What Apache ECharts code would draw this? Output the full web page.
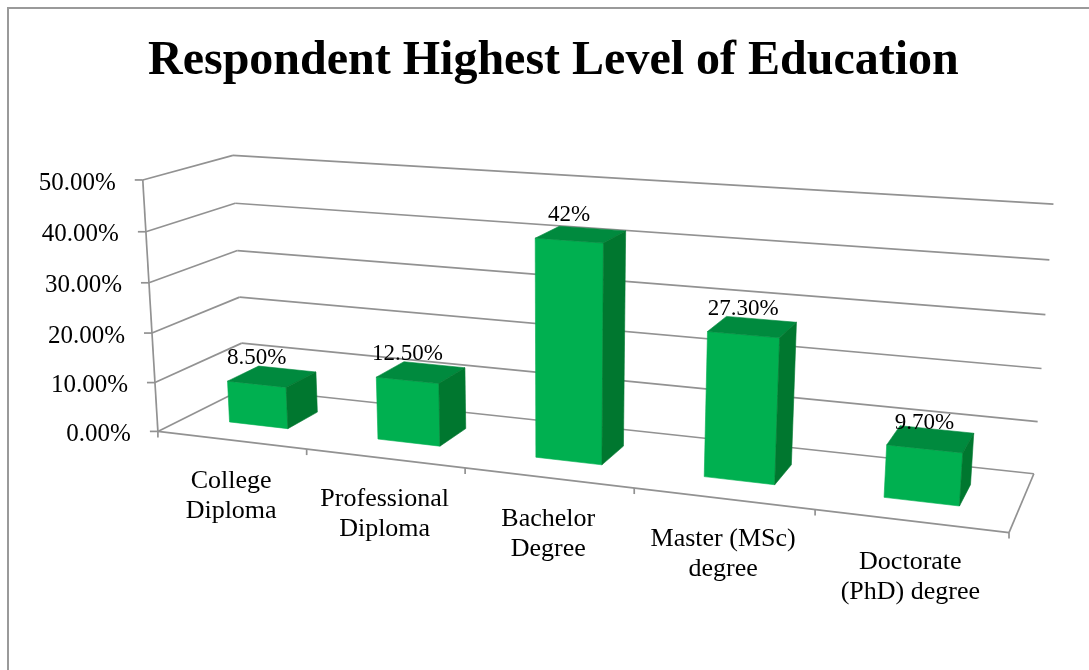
<!DOCTYPE html>
<html>
<head>
<meta charset="utf-8">
<script src="https://cdn.jsdelivr.net/npm/echarts@6/dist/echarts.min.js"></script>
<style>html,body{margin:0;padding:0;background:#fff}#chart{width:1089px;height:670px}</style>
</head>
<body>
<div id="chart"></div>
<script>
const chartTitle = 'Respondent Highest Level of Education';
const categories = ['College\nDiploma', 'Professional\nDiploma', 'Bachelor\nDegree', 'Master (MSc)\ndegree', 'Doctorate\n(PhD) degree'];
const values = [8.5, 12.5, 42, 27.3, 9.7];
const valueLabels = ['8.50%', '12.50%', '42%', '27.30%', '9.70%'];
const yTicks = [0, 10, 20, 30, 40, 50];
const yTickLabels = ['0.00%', '10.00%', '20.00%', '30.00%', '40.00%', '50.00%'];

const FONT = "'Liberation Serif', 'Times New Roman', serif";
const colors = { front: '#00B050', top: '#008A3E', side: '#00772F', grid: '#929292' };

// 3-D view: rotation angles in degrees, focal length and principal point in px
const camera = { yaw: 20.79, pitch: 15.69, roll: -0.03, focal: 1870, cx: 552.7, cy: 392.5 };
// plot box: front-bottom-left corner on screen, size of the box in px
const box = { left: 157.9, bottom: 431.4, width: 835.8, height: 253.1, depth: 170.8 };
// column footprint: half width as share of a category, front/back as share of the depth
const barShape = { halfWidth: 0.2, front: 0.318, back: 0.689 };

function basis(cam) {
  const r = Math.PI / 180;
  const cyw = Math.cos(cam.yaw * r), syw = Math.sin(cam.yaw * r);
  const cp = Math.cos(cam.pitch * r), sp = Math.sin(cam.pitch * r);
  const cr = Math.cos(cam.roll * r), sr = Math.sin(cam.roll * r);
  function rot(v) {
    const x = v[0], y = v[1], z = v[2];
    const y1 = cp * y - sp * z, z1 = sp * y + cp * z;
    return [x * cr - y1 * sr, x * sr + y1 * cr, z1];
  }
  return { ex: rot([cyw, 0, -syw]), ey: rot([0, -1, 0]), ez: rot([syw, 0, cyw]) };
}
// Perspective projector anchored at the grid's bottom-left corner
function makeProjector(cam, ox, oy) {
  const b = basis(cam);
  const T = [ox - cam.cx, oy - cam.cy, cam.focal];
  const camPt = (X, Y, Z) => [
    T[0] + X * b.ex[0] + Y * b.ey[0] + Z * b.ez[0],
    T[1] + X * b.ex[1] + Y * b.ey[1] + Z * b.ez[1],
    T[2] + X * b.ex[2] + Y * b.ey[2] + Z * b.ez[2]
  ];
  const pt = (X, Y, Z) => { const c = camPt(X, Y, Z); return [cam.cx + cam.focal * c[0] / c[2], cam.cy + cam.focal * c[1] / c[2]]; };
  return { camPt, pt, b };
}
function projectorFor(cs) { return makeProjector(camera, cs.x, cs.y + cs.height); }
function line(a, b) {
  return { type: 'line', shape: { x1: a[0], y1: a[1], x2: b[0], y2: b[1] },
    style: { stroke: colors.grid, lineWidth: 1.7 } };
}

const chart = echarts.init(document.getElementById('chart'));
chart.setOption({
  animation: false,
  title: { text: chartTitle, left: 143, top: 33,
    textStyle: { fontFamily: FONT, fontSize: 48, fontWeight: 'bold', color: '#000' } },
  graphic: [
    { type: 'rect', shape: { x: 8, y: 8, width: 1200, height: 800 }, style: { fill: 'none', stroke: '#9a9a9a', lineWidth: 2 }, silent: true }
  ],
  grid: { left: box.left, top: box.bottom - box.height, width: box.width, height: box.height },
  xAxis: { type: 'category', data: categories, show: false },
  yAxis: { type: 'value', min: 0, max: 50, interval: 10, show: false },
  series: [
    { // one gridline per value tick, across the side wall and the back wall
      type: 'custom', z: 1, silent: true,
      data: yTicks.map(v => [0, v]),
      renderItem(params, api) {
        const cs = params.coordSys, pr = projectorFor(cs);
        const Y = cs.y + cs.height - api.coord([0, api.value(1)])[1];
        const W = cs.width, D = box.depth;
        const a = pr.pt(0, Y, 0), b = pr.pt(0, Y, D), c = pr.pt(W, Y, D);
        return { type: 'group', children: [
          line(a, b), line(b, c),
          line([a[0] - 8, a[1]], a),
          { type: 'text', style: { text: yTickLabels[params.dataIndex], x: a[0] - 27, y: a[1] + 3,
            align: 'right', verticalAlign: 'middle', font: '25px ' + FONT, fill: '#000' } }
        ] };
      }
    },
    { // value axis line and floor edges
      type: 'custom', z: 1, silent: true,
      data: [[0, 0]],
      renderItem(params, api) {
        const cs = params.coordSys, pr = projectorFor(cs);
        const W = cs.width, H = cs.height, D = box.depth;
        const o = pr.pt(0, 0, 0), r = pr.pt(W, 0, 0);
        return { type: 'group', children: [
          line(o, pr.pt(0, H, 0)), line(o, r), line(r, pr.pt(W, 0, D))
        ] };
      }
    },
    { // category ticks and labels along the front floor edge
      type: 'custom', z: 1, silent: true,
      data: categories.map((c, i) => [i, 0]),
      renderItem(params, api) {
        const cs = params.coordSys, pr = projectorFor(cs);
        const i = api.value(0);
        const band = api.size([1, 0])[0];
        const xc = api.coord([i, 0])[0] - cs.x;
        const children = [];
        const bounds = [xc - band / 2];
        if (params.dataIndex === categories.length - 1) bounds.push(xc + band / 2);
        bounds.forEach(xb => { const t = pr.pt(xb, 0, 0); children.push(line(t, [t[0], t[1] + 6])); });
        const m = pr.pt(xc, 0, 0);
        children.push({ type: 'text', style: { text: categories[params.dataIndex], x: m[0], y: m[1] + 26,
          align: 'center', verticalAlign: 'top', lineHeight: 30, font: '26px ' + FONT, fill: '#000' } });
        return { type: 'group', children };
      }
    },
    { // 3-D columns with value labels
      type: 'custom', z: 2, silent: true,
      data: values.map((v, i) => [i, v]),
      renderItem(params, api) {
        const cs = params.coordSys, pr = projectorFor(cs);
        const i = api.value(0), v = api.value(1);
        const top = api.coord([i, v]), base = api.coord([i, 0]);
        const band = api.size([1, 0])[0];
        const bottom = cs.y + cs.height;
        const xc = top[0] - cs.x;
        const X0 = xc - barShape.halfWidth * band, X1 = xc + barShape.halfWidth * band;
        const Y0 = bottom - base[1], Y1 = bottom - top[1];
        const Z0 = barShape.front * box.depth, Z1 = barShape.back * box.depth;
        const faces = [
          { n: [0, 0, -1], p: [[X0, Y0, Z0], [X1, Y0, Z0], [X1, Y1, Z0], [X0, Y1, Z0]], c: colors.front },
          { n: [0, 0, 1], p: [[X0, Y0, Z1], [X1, Y0, Z1], [X1, Y1, Z1], [X0, Y1, Z1]], c: colors.front },
          { n: [0, 1, 0], p: [[X0, Y1, Z0], [X1, Y1, Z0], [X1, Y1, Z1], [X0, Y1, Z1]], c: colors.top },
          { n: [0, -1, 0], p: [[X0, Y0, Z0], [X1, Y0, Z0], [X1, Y0, Z1], [X0, Y0, Z1]], c: colors.top },
          { n: [1, 0, 0], p: [[X1, Y0, Z0], [X1, Y0, Z1], [X1, Y1, Z1], [X1, Y1, Z0]], c: colors.side },
          { n: [-1, 0, 0], p: [[X0, Y0, Z0], [X0, Y0, Z1], [X0, Y1, Z1], [X0, Y1, Z0]], c: colors.side }
        ];
        const b = pr.b;
        const children = [];
        faces.forEach(f => {
          // keep only faces turned towards the viewer
          const nc = [0, 1, 2].map(k => f.n[0] * b.ex[k] + f.n[1] * b.ey[k] + f.n[2] * b.ez[k]);
          const pc = pr.camPt(f.p[0][0], f.p[0][1], f.p[0][2]);
          if (nc[0] * pc[0] + nc[1] * pc[1] + nc[2] * pc[2] >= 0) return;
          children.push({ type: 'polygon', shape: { points: f.p.map(q => pr.pt(q[0], q[1], q[2])) },
            style: { fill: f.c, stroke: f.c, lineWidth: 0.6 } });
        });
        const lab = pr.pt(xc, Y1, Z0);
        children.push({ type: 'text', z2: 10, style: { text: valueLabels[params.dataIndex], x: lab[0], y: lab[1] - 26,
          align: 'center', verticalAlign: 'middle', font: '23px ' + FONT, fill: '#000' } });
        return { type: 'group', children };
      }
    }
  ]
});
</script>
</body>
</html>
